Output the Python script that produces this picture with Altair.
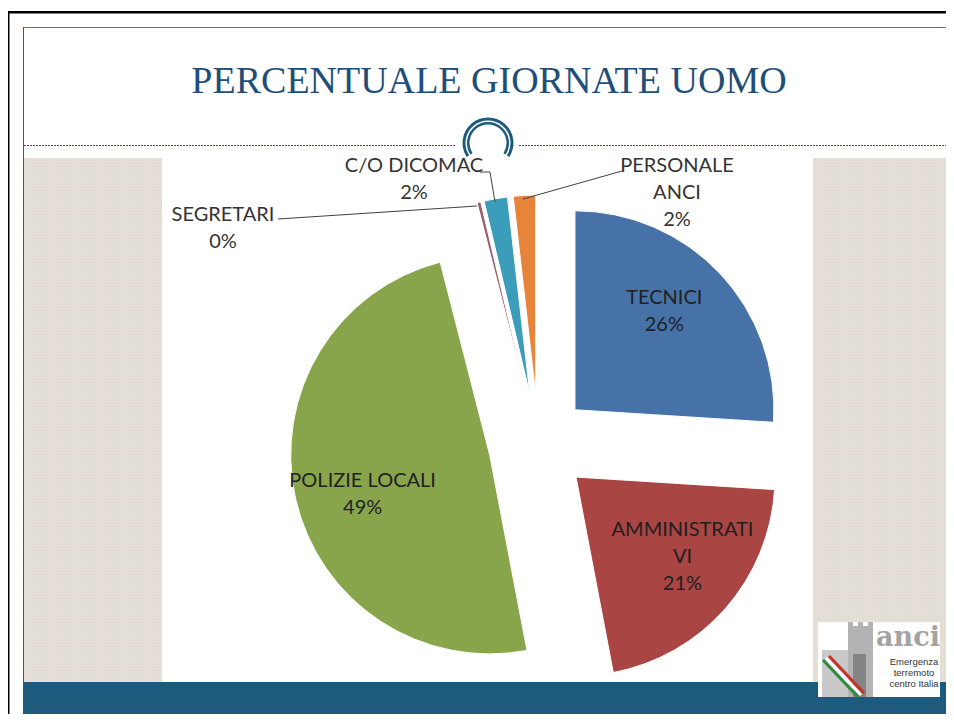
import altair as alt
import pandas as pd

# ---- data ----
categories = ["TECNICI", "AMMINISTRATIVI", "POLIZIE LOCALI", "SEGRETARI", "C/O DICOMAC", "PERSONALE ANCI"]
values = [26.0, 21.0, 49.0, 0.3, 1.9, 1.8]
label_names = ["TECNICI", "AMMINISTRATI\nVI", "POLIZIE LOCALI", "SEGRETARI", "C/O DICOMAC", "PERSONALE\nANCI"]
pct_labels = ["26%", "21%", "49%", "0%", "2%", "2%"]
colors = ["#4672A8", "#A94644", "#88A54C", "#9A5C6E", "#3C9DBB", "#E7843A"]

title_text = "PERCENTUALE GIORNATE UOMO"
logo_lines = "Emergenza\nterremoto\ncentro Italia"

# ---- layout parameters ----
W, H = 938, 706
CX, CY = 530.5, 436.0      # pie centre (chart px)
R = 199                    # pie radius
EXPLODE = 50               # explosion distance
LABEL_R = 133              # inner label radius
LABEL_SHIFT = -0.08        # label angle adjustment (rad)
LH = 27                    # label line height

df = pd.DataFrame({
    "cat": categories,
    "value": values,
    "name": label_names,
    "pct": pct_labels,
    "order": list(range(len(categories))),
})

one = pd.DataFrame({"k": [0]})

base = (
    alt.Chart(df)
    .transform_window(cum="sum(value)", sort=[alt.SortField("order")], frame=[None, 0])
    .transform_joinaggregate(total="sum(value)")
    .transform_calculate(
        start="2*PI*(datum.cum - datum.value)/datum.total",
        end="2*PI*datum.cum/datum.total",
    )
    .transform_calculate(mid="(datum.start + datum.end)/2")
    .transform_calculate(
        cx=f"{CX} + {EXPLODE}*sin(datum.mid)",
        cy=f"{CY} - {EXPLODE}*cos(datum.mid)",
        label="datum.name + '\\n' + datum.pct",
    )
    .transform_calculate(nlines="length(split(datum.label, '\\n'))")
    .transform_calculate(
        lx=f"datum.cx + {LABEL_R}*sin(datum.mid + {LABEL_SHIFT})",
        ly=f"datum.cy - {LABEL_R}*cos(datum.mid + {LABEL_SHIFT}) - (datum.nlines - 1)*{LH}/2",
    )
)

pie = base.mark_arc(radius=R, stroke="white", strokeWidth=1).encode(
    theta=alt.Theta("start:Q", scale=None, stack=None),
    theta2="end:Q",
    x=alt.X("cx:Q", scale=None, axis=None),
    y=alt.Y("cy:Q", scale=None, axis=None),
    color=alt.Color("cat:N", scale=alt.Scale(domain=categories, range=colors), legend=None),
)

inner_labels = base.transform_filter("datum.value > 10").mark_text(
    font="Lato", fontSize=20, lineBreak="\n", lineHeight=LH,
    color="#1f1f1f", align="center", baseline="middle",
).encode(
    x=alt.X("lx:Q", scale=None, axis=None),
    y=alt.Y("ly:Q", scale=None, axis=None),
    text="label:N",
)


def rect(x, x2, y, y2, color, **kw):
    return alt.Chart(one).mark_rect(color=color, **kw).encode(
        x=alt.value(x), x2=alt.value(x2), y=alt.value(y), y2=alt.value(y2)
    )


def seg(x, y, x2, y2, color="#404040", width=1, **kw):
    return alt.Chart(one).mark_rule(color=color, strokeWidth=width, **kw).encode(
        x=alt.value(x), y=alt.value(y), x2=alt.value(x2), y2=alt.value(y2)
    )


def txt(s, x, y, **kw):
    return alt.Chart(one).mark_text(lineBreak="\n", **kw).encode(
        x=alt.value(x), y=alt.value(y), text=alt.value(s)
    )


def ring(x, y, r_in, r_out, t0, t1, color):
    return alt.Chart(one).mark_arc(color=color).encode(
        x=alt.value(x), y=alt.value(y),
        theta=alt.value(t0), theta2=alt.value(t1),
        radius=alt.value(r_out), radius2=alt.value(r_in),
    )


def texture(x0, x1, y0, y1, step, color):
    v = alt.Chart(alt.sequence(x0 + 1, x1, step, as_="p")).mark_rule(
        color=color, strokeWidth=1, opacity=0.7
    ).encode(x=alt.X("p:Q", scale=None, axis=None), y=alt.value(y0), y2=alt.value(y1))
    h = alt.Chart(alt.sequence(y0 + 1, y1, step, as_="p")).mark_rule(
        color=color, strokeWidth=1, opacity=0.7
    ).encode(y=alt.Y("p:Q", scale=None, axis=None), x=alt.value(x0), x2=alt.value(x1))
    return [v, h]


PANEL = "#DFD9CF"
PANEL_LIGHT = "#EAE5DE"
BLUE = "#1E5A7D"

deco = [
    # outer black frame
    rect(-8, W, 3, 5.5, "#000000"),
    rect(-1, 1.5, 3, H, "#000000"),
    # slide border
    rect(15, 943, 19, 20, "#4F7898"),
    rect(15, 16, 19, 707, "#2F5E82"),
    # side panels
    rect(16, 154, 150, 674, PANEL),
    rect(805, 942.5, 150, 674, PANEL),
    *texture(16, 154, 150, 674, 3, PANEL_LIGHT),
    *texture(805, 942.5, 150, 674, 3, PANEL_LIGHT),
    # bottom bar
    rect(15, 942.5, 674, 707, BLUE),
    rect(15, 942.5, 706, 707.5, "#6A90AC"),
    # dashed divider
    seg(16, 137.5, 447, 137.5, color=BLUE, width=1, strokeDash=[2, 1]),
    seg(511, 137.5, 942, 137.5, color=BLUE, width=1, strokeDash=[2, 1]),
    # circle ornament
    ring(480, 135, 22.5, 25.5, -2.15, 2.15, BLUE),
    ring(480, 135, 18.5, 21, -2.15, 2.15, BLUE),
    rect(440, 520, 150, 160, "#FFFFFF"),
]

title = txt(title_text, 481, 85, font="Liberation Serif", fontSize=38,
            color="#1F4E79", align="center", baseline="alphabetic")

# outside labels with leader lines (y = first line centre)
lab = dict(font="Lato", fontSize=20, lineHeight=LH, color="#333333",
           align="center", baseline="middle")
outside = [
    txt(f"{label_names[3]}\n{pct_labels[3]}", 215, 206.5, **lab),
    txt(f"{label_names[4]}\n{pct_labels[4]}", 406, 158, **lab),
    txt(f"{label_names[5]}\n{pct_labels[5]}", 669, 157.5, **lab),
    seg(270, 211, 469, 198),
    seg(472, 164, 482, 164),
    seg(482, 164, 487, 194),
    seg(614, 163, 515, 191),
]

# logo (approximation)
logo = [
    rect(810, 932, 614, 689, "#FFFFFF"),
    rect(814, 842, 642, 689, "#C9C9C9"),
    rect(840, 865, 618, 689, "#B3B3B3"),
    rect(840, 845, 614, 618, "#B3B3B3"),
    rect(850, 855, 614, 618, "#B3B3B3"),
    rect(860, 865, 614, 618, "#B3B3B3"),
    rect(845, 858, 646, 689, "#858585"),
    seg(815, 652, 850, 689, color="#2E8B3E", width=3),
    seg(818, 650, 853, 687, color="#FFFFFF", width=3),
    seg(821, 648, 856, 685, color="#C8302B", width=3),
    txt("anci", 900, 638, font="DejaVu Serif", fontSize=27, fontWeight="bold",
        color="#A3A3A3", align="center", baseline="alphabetic"),
    txt(logo_lines, 906, 654, font="Liberation Sans", fontSize=9.5,
        lineHeight=11, color="#333333", align="center", baseline="middle"),
]

chart = alt.layer(
    *deco, title, pie, inner_labels, *outside, *logo
).properties(
    width=W, height=H, autosize=alt.AutoSizeParams(type="none"), padding=0,
    background="white",
).configure_view(stroke=None)

chart.save("out.html", embed_options={"renderer": "svg", "actions": False})
